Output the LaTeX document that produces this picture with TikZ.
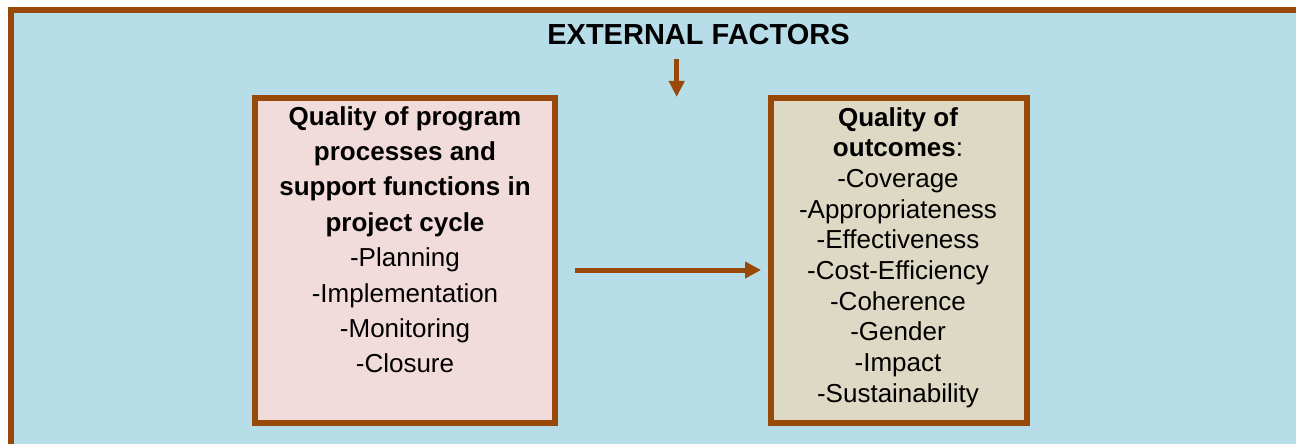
\documentclass[tikz,border=0pt]{standalone}
\usepackage{fontspec}
\setmainfont{Liberation Sans}
\usetikzlibrary{arrows.meta}
\definecolor{brownc}{HTML}{984807}
\definecolor{bluebg}{HTML}{B7DDE8}
\definecolor{pinkbox}{HTML}{F2DCDB}
\definecolor{tanbox}{HTML}{DDD9C4}
\begin{document}
\begin{tikzpicture}[x=1pt,y=-1pt,
  frame/.style={draw=brownc,line width=6pt},
  box/.style={frame,rectangle,minimum height=325pt,inner sep=0pt},
  txt/.style={inner sep=0pt,align=center,anchor=north},
  arr/.style={draw=brownc,line width=5pt,-{Triangle[length=16pt,width=16pt]}}]
\useasboundingbox (0,0) rectangle (1296,444);
\fill[white] (0,0) rectangle (1296,444);
\fill[bluebg] (8,7) rectangle (1296,444);
\draw[frame] (11,444) -- (11,10) -- (1296,10);
% boxes
\node[box,fill=pinkbox,minimum width=300pt] (L) at (405,260.5) {};
\node[box,fill=tanbox,minimum width=256pt] (R) at (899,260.5) {};
% texts
\node[txt,font=\fontsize{26}{35.4}\selectfont] (Lt) at (405,106)
  {\textbf{Quality of program}\\\textbf{processes and}\\\textbf{support functions in}\\\textbf{project cycle}\\-Planning\\-Implementation\\-Monitoring\\-Closure};
\node[txt,font=\fontsize{26}{30.7}\selectfont] (Rt) at (898,107)
  {\textbf{Quality of}\\\textbf{outcomes}:\\-Coverage\\-Appropriateness\\-Effectiveness\\-Cost-Efficiency\\-Coherence\\-Gender\\-Impact\\-Sustainability};
% title
\node[font=\bfseries\fontsize{29}{34}\selectfont,anchor=base,inner sep=0pt] (T) at (698.5,45) {EXTERNAL FACTORS};
% arrows
\coordinate (d1) at (676.7,59);
\coordinate (d2) at (676.7,97);
\draw[arr,line width=4.7pt,-{Triangle[length=16pt,width=15pt]}] (d1) -- (d2);
\draw[arr] ([xshift=17pt,yshift=-9.5pt]L.east) -- ([xshift=-7pt,yshift=-9.5pt]R.west);
\end{tikzpicture}
\end{document}
